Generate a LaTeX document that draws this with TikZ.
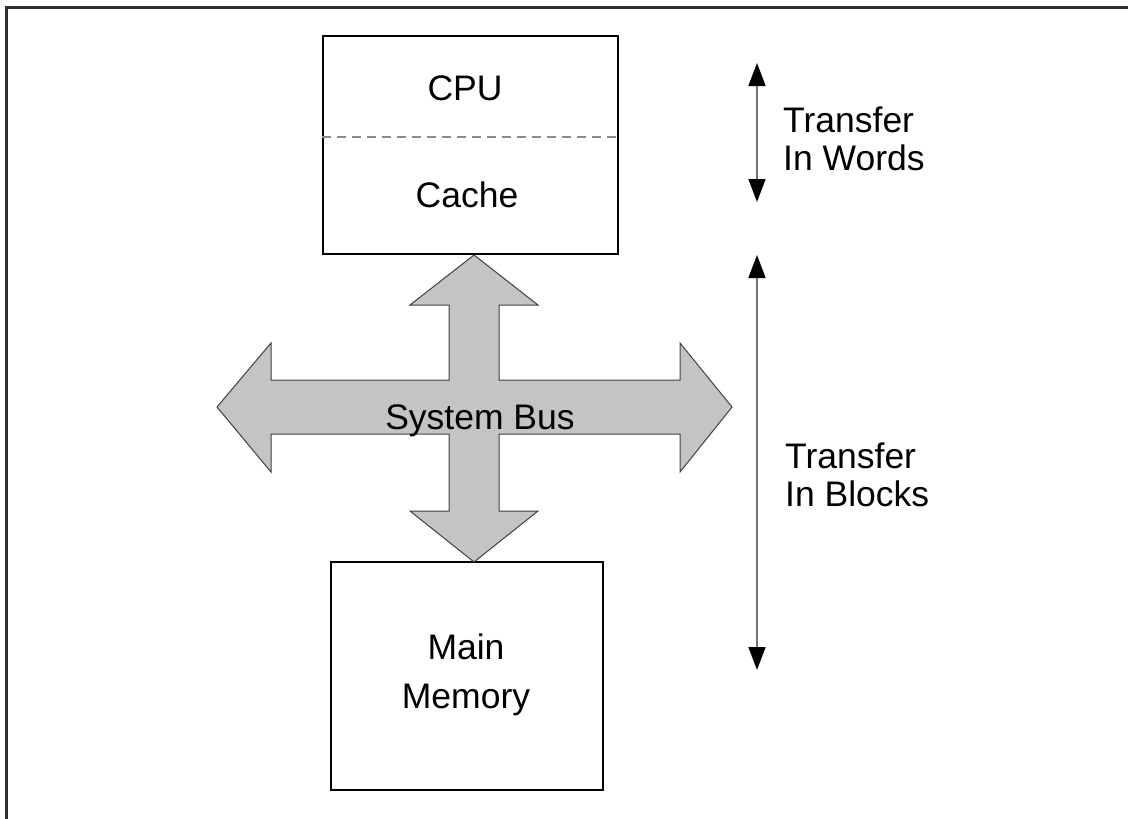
\documentclass[tikz,border=0pt]{standalone}
\usepackage{fontspec}
\setmainfont{Liberation Sans}
\usetikzlibrary{arrows.meta}

\begin{document}
\begin{tikzpicture}[x=1pt,y=-1pt,
  lbl/.style={font=\fontsize{35.5}{38}\selectfont, inner sep=0pt},
  unitbox/.style={draw=black, line width=1.5pt, inner sep=0pt},
  buspath/.style={draw=black!75, line width=1pt, fill=black!23},
  span/.style={draw=black!55, line width=1.6pt,
    {Triangle[length=23pt,width=17pt,color=black]}-{Triangle[length=23pt,width=17pt,color=black]}}
]
\useasboundingbox (0,0) rectangle (1128,819);

% page frame (only top and left edges show)
\draw[line width=3pt, black!82] (6,819) -- (6,7) -- (1128,7);

% CPU / cache unit
\node[unitbox, minimum width=295pt, minimum height=218pt] (cpu) at (470.5,145) {};
\draw[black!45, line width=1.6pt, dash pattern=on 9pt off 6pt] (cpu.west |- 0,137) coordinate (split) -- (cpu.east |- 0,137);
\node[lbl, anchor=base] (cputxt) at (465,100) {CPU};
\node[lbl, anchor=base] (cachetxt) at (467,207) {Cache};

% main memory
\node[unitbox, minimum width=272pt, minimum height=228pt] (mem) at (467,676) {};
\node[lbl, anchor=base, align=center, font=\fontsize{35.5}{49}\selectfont] (memtxt) at (466,708) {Main\\Memory};

% system bus: four-way block arrow
\draw[buspath]
  (474,255) -- (538,305) -- (499,305) -- (499,380) -- (680,380) -- (680,343)
  -- (732,407) -- (680,472) -- (680,434) -- (499,434) -- (499,511) -- (538,511)
  -- (474,562) -- (410,511) -- (449,511) -- (449,434) -- (271,434) -- (271,472)
  -- (217,407) -- (271,343) -- (271,380) -- (449,380) -- (449,305) -- (410,305)
  -- cycle;
\node[lbl, anchor=base] (bus) at (480,429) {System Bus};

% transfer spans
\coordinate (wtop) at (757,63);
\coordinate (wbot) at (757,202);
\coordinate (btop) at (757,255);
\coordinate (bbot) at (757,670);
\draw[span] (wtop) -- (wbot);
\draw[span] (btop) -- (bbot);
\node[lbl, anchor=base west, align=left] (words) at (783,170) {Transfer\\In Words};
\node[lbl, anchor=base west, align=left] (blocks) at (785,506) {Transfer\\In Blocks};
\end{tikzpicture}
\end{document}
